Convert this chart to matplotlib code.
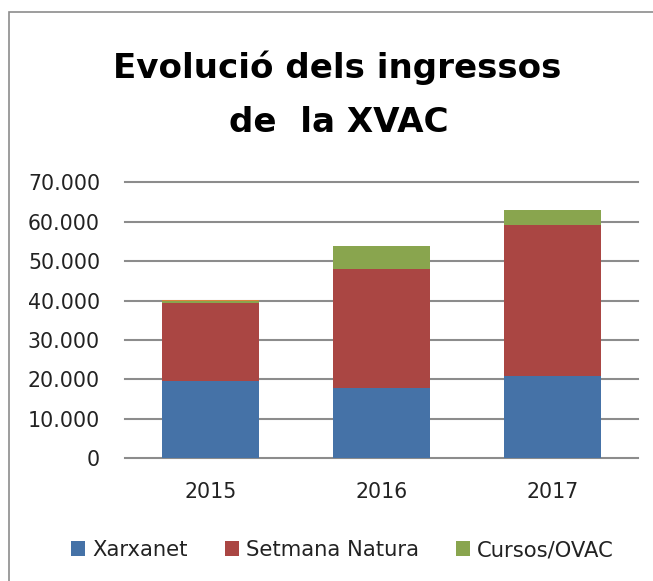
import matplotlib
matplotlib.use("Agg")
import matplotlib.pyplot as plt
from matplotlib.patches import Rectangle, Patch
from matplotlib.ticker import FuncFormatter, MultipleLocator
import numpy as np

years = ["2015", "2016", "2017"]
xarxanet = [19500, 17900, 20900]
setmana_natura = [19800, 30000, 38200]
cursos_ovac = [600, 6000, 4000]
altres = [300, 0, 0]
series_names = ["Xarxanet", "Setmana Natura", "Cursos/OVAC"]
title_lines = ["Evolució dels ingressos", "de  la XVAC"]

colors = ["#4572A7", "#AA4643", "#89A54E", "#DB843D"]

W, H = 653, 581
fig = plt.figure(figsize=(W / 100, H / 100), dpi=100)
fig.patch.set_facecolor("white")

ax = fig.add_axes([125 / W, 1 - 458.3 / H, (638 - 125) / W, (458.3 - 182.3) / H])

x = np.arange(len(years))
width = 0.57
bottom = np.zeros(len(years))
for vals, c in zip([xarxanet, setmana_natura, cursos_ovac, altres], colors):
    ax.bar(x, vals, width, bottom=bottom, color=c, edgecolor="none", zorder=3)
    bottom += np.array(vals)

ax.set_xlim(-0.5, 2.5)
ax.set_ylim(0, 70000)
ax.yaxis.set_major_locator(MultipleLocator(10000))
ax.yaxis.set_major_formatter(FuncFormatter(lambda v, p: f"{int(v):,}".replace(",", ".")))
ax.set_xticks(x)
ax.set_xticklabels(years)
ax.grid(axis="y", color="#8c8c8c", linewidth=1.5, zorder=0)
for gl in ax.get_ygridlines():
    gl.set_clip_on(False)
for s in ax.spines.values():
    s.set_visible(False)
ax.tick_params(axis="both", length=0, labelsize=14.8, colors="#222222")
ax.tick_params(axis="y", pad=18)
ax.tick_params(axis="x", pad=17)

# outer chart border (only left and top visible)
fig.patches.append(Rectangle((8.5 / W, -0.1), 1.2, 1.1 - 12.5 / H, transform=fig.transFigure,
                             fill=False, edgecolor="#8c8c8c", linewidth=1.2))

fig.text(337.5 / W, 1 - 78 / H, title_lines[0], ha="center", va="baseline",
         fontsize=24.6, fontweight="bold", family="DejaVu Sans", color="black")
fig.text(338.5 / W, 1 - 132 / H, title_lines[1], ha="center", va="baseline",
         fontsize=24.6, fontweight="bold", family="DejaVu Sans", color="black")

handles = [Patch(facecolor=c, edgecolor="none") for c in colors[:3]]
fig.legend(handles, series_names, loc="center", bbox_to_anchor=(342.5 / W, 1 - 550 / H),
           ncol=3, frameon=False, fontsize=15.2, handlelength=0.67, handleheight=0.67,
           handletextpad=0.33, columnspacing=1.75, labelcolor="#222222")

fig.savefig("out.png", dpi=100, facecolor="white")
